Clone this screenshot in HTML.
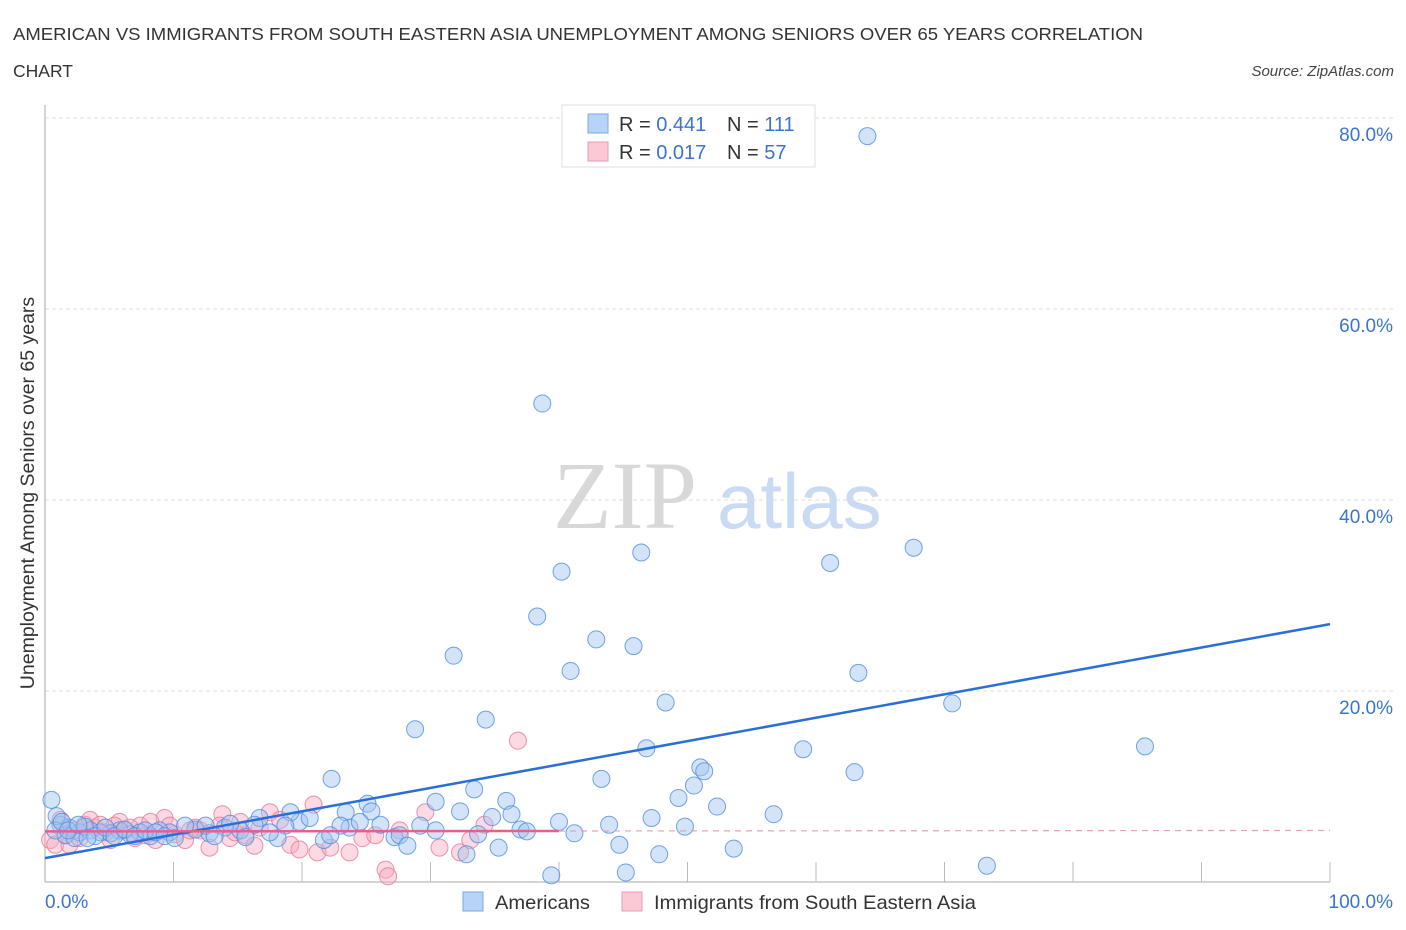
<!DOCTYPE html>
<html><head><meta charset="utf-8">
<style>
body{margin:0;background:#fff;font-family:"Liberation Sans",sans-serif;}
svg{display:block}
</style></head>
<body>
<svg id="chart" width="1406" height="930" viewBox="0 0 1406 930" xmlns="http://www.w3.org/2000/svg">
  <text x="13" y="40" font-size="17.5" fill="#333" textLength="1130" lengthAdjust="spacingAndGlyphs">AMERICAN VS IMMIGRANTS FROM SOUTH EASTERN ASIA UNEMPLOYMENT AMONG SENIORS OVER 65 YEARS CORRELATION</text>
  <text x="13" y="77" font-size="17.5" fill="#333">CHART</text>
  <text x="1394" y="76" font-size="15" fill="#444" font-style="italic" text-anchor="end">Source: ZipAtlas.com</text>
  <text x="34" y="493" font-size="19.5" fill="#333" text-anchor="middle" transform="rotate(-90 34 493)">Unemployment Among Seniors over 65 years</text>
  <g>
    <text x="553" y="528" font-family="Liberation Serif,serif" font-size="96" fill="#d8d8d8">ZIP</text>
    <text x="717" y="528" font-size="78" fill="#c9dbf2">atlas</text>
  </g>
  <g id="grid"></g>
  <g id="axes"></g>
  <g id="pts"></g>
  <g id="lines"></g>
  <g>
    <rect x="562" y="105" width="253" height="62" fill="#fff" stroke="#ddd"/>
    <rect x="588" y="114" width="20" height="19" fill="#b7d3f5" stroke="#7aa8e6"/>
    <rect x="588" y="142" width="20" height="19" fill="#fbc9d6" stroke="#eb9ab0"/>
    <text x="619" y="131" font-size="20" fill="#333">R = <tspan fill="#3b73d1">0.441</tspan><tspan x="727">N = </tspan><tspan fill="#3b73d1">111</tspan></text>
    <text x="619" y="159" font-size="20" fill="#333">R = <tspan fill="#3b73d1">0.017</tspan><tspan x="727">N = </tspan><tspan fill="#3b73d1">57</tspan></text>
  </g>
  <g>
    <rect x="463" y="892" width="20" height="19" fill="#b7d3f5" stroke="#7aa8e6"/>
    <text x="495" y="909" font-size="19.5" fill="#333" textLength="95" lengthAdjust="spacingAndGlyphs">Americans</text>
    <rect x="622" y="892" width="20" height="19" fill="#fbc9d6" stroke="#eb9ab0"/>
    <text x="654" y="909" font-size="19.5" fill="#333" textLength="322" lengthAdjust="spacingAndGlyphs">Immigrants from South Eastern Asia</text>
  </g>
</svg>
<script>
const yTicks=[20,40,60,80];
const yTickLabels=["20.0%","40.0%","60.0%","80.0%"];
const xEndLabels=["0.0%","100.0%"];
const blueX=[64.0,38.7,46.4,67.6,61.1,40.2,38.3,42.9,45.8,31.8,40.9,63.3,48.3,70.6,34.3,28.8,46.8,85.6,59.0,51.0,51.3,63.0,22.3,43.3,50.5,33.4,30.4,49.3,52.3,56.7,35.9,25.1,32.3,0.5,23.4,25.4,36.3,40.0,43.9,47.2,49.8,41.2,34.8,29.2,30.4,33.7,37.0,37.5,27.2,27.6,28.2,35.3,44.7,53.6,47.8,32.8,39.4,45.2,73.3,21.7,19.8,19.1,20.6,16.7,18.7,18.1,16.3,15.2,14.0,12.8,11.7,10.9,9.7,8.9,8.2,7.4,6.6,5.8,5.1,4.3,3.5,2.7,1.9,1.2,0.9,1.6,2.3,3.1,3.9,4.7,5.4,6.2,7.0,7.8,8.6,9.3,10.1,12.5,13.2,14.4,15.6,17.5,23.7,24.5,26.1,23.0,22.2,0.8,1.3,1.8,2.6,3.3];
const blueY=[78.1,50.1,34.5,35.0,33.4,32.5,27.8,25.4,24.7,23.7,22.1,21.9,18.8,18.7,17.0,16.0,14.0,14.2,13.9,12.0,11.6,11.5,10.8,10.8,10.1,9.7,8.4,8.8,7.9,7.1,8.5,8.2,7.4,8.6,7.3,7.4,7.1,6.3,6.0,6.7,5.8,5.1,6.8,5.9,5.4,5.0,5.5,5.3,4.7,4.9,3.8,3.6,3.9,3.5,2.9,2.9,0.7,1.0,1.7,4.4,6.3,7.3,6.7,6.7,5.9,4.6,6.0,5.4,5.7,5.1,5.5,5.9,5.2,5.4,4.8,5.2,5.0,5.4,5.1,5.2,5.4,5.2,5.7,6.0,6.9,4.9,4.6,5.8,4.8,5.7,4.8,5.5,4.8,5.4,5.2,4.8,4.6,5.9,4.8,6.1,4.7,5.2,5.7,6.3,6.0,5.9,4.9,5.4,6.3,5.4,6.0,4.6];
const pinkX=[36.8,29.6,20.9,13.8,9.3,5.8,1.2,0.4,0.8,1.6,2.3,3.1,3.9,4.7,5.4,6.2,7.0,7.8,8.6,10.1,10.9,11.7,12.8,14.4,15.6,16.3,17.5,19.1,19.8,21.2,22.2,23.7,24.7,25.7,26.5,26.7,27.6,30.7,32.3,33.1,34.2,3.5,4.3,7.4,12.1,15.2,16.7,18.3,5.1,1.9,2.7,6.6,8.2,9.7,11.3,13.6,14.8];
const pinkY=[14.8,7.3,8.1,7.1,6.7,6.3,6.5,4.4,3.9,4.9,5.4,6.0,5.7,5.2,5.9,5.4,4.6,4.9,4.4,5.0,4.4,5.7,3.6,4.6,4.9,3.8,7.3,3.9,3.4,3.1,3.6,3.1,4.6,4.9,1.3,0.6,5.4,3.6,3.1,4.4,6.0,6.5,6.0,5.9,5.4,6.3,5.7,6.5,4.4,3.9,4.6,5.7,6.3,5.9,5.4,5.9,5.2];
const blueTrend=[2.5,27.0];   // value at x=0, x=100
const pinkTrend=[5.3,5.4];
const pinkSolidEnd=40;

const NS="http://www.w3.org/2000/svg";
const X0=45,X1=1330,Y0=882,Y80=118;
const sx=v=>X0+(X1-X0)*v/100;
const sy=v=>Y0-(Y0-Y80)*v/80;
function mk(tag,attrs,parent){const e=document.createElementNS(NS,tag);for(const k in attrs)e.setAttribute(k,attrs[k]);parent.appendChild(e);return e;}
const grid=document.getElementById('grid'),axes=document.getElementById('axes'),pts=document.getElementById('pts'),lines=document.getElementById('lines');
yTicks.forEach((t,i)=>{
  const l=mk('line',{x1:X0,x2:1393,y1:sy(t),y2:sy(t),stroke:'#ddd','stroke-dasharray':'4,3'},grid);
  
  
  const tx=mk('text',{x:1393,y:sy(t)+23,'font-size':19,fill:'#3b73d1','text-anchor':'end'},axes);
  tx.textContent=yTickLabels[i];
  
  
});
const ya=mk('line',{x1:X0,x2:X0,y1:105,y2:Y0,stroke:'#aaa'},axes);


const xa=mk('line',{x1:X0,x2:X1,y1:Y0,y2:Y0,stroke:'#aaa'},axes);


for(let v=10;v<=100;v+=10){
  const t=mk('line',{x1:sx(v),x2:sx(v),y1:Y0,y2:Y0-20,stroke:'#bbb'},axes);
  
  
}
const xl0=mk('text',{x:45,y:908,'font-size':19,fill:'#3b73d1'},axes);xl0.textContent=xEndLabels[0];


const xl1=mk('text',{x:1393,y:908,'font-size':19,fill:'#3b73d1','text-anchor':'end'},axes);xl1.textContent=xEndLabels[1];


pinkX.forEach((x,i)=>{
  const c=mk('circle',{cx:sx(x),cy:sy(pinkY[i]),r:8.5,fill:'rgba(248,170,192,0.45)',stroke:'rgba(232,120,150,0.8)','stroke-width':1},pts);
  
  
});
blueX.forEach((x,i)=>{
  const c=mk('circle',{cx:sx(x),cy:sy(blueY[i]),r:8.5,fill:'rgba(160,196,240,0.45)',stroke:'rgba(80,140,220,0.8)','stroke-width':1},pts);
  
  
});
const bl=mk('line',{x1:sx(0),y1:sy(blueTrend[0]),x2:sx(100),y2:sy(blueTrend[1]),stroke:'#2a6fd6','stroke-width':2.5},lines);


const pv=x=>pinkTrend[0]+(pinkTrend[1]-pinkTrend[0])*x/100;
const pl=mk('line',{x1:sx(0),y1:sy(pv(0)),x2:sx(pinkSolidEnd),y2:sy(pv(pinkSolidEnd)),stroke:'#e8608a','stroke-width':2.5},lines);


const pd=mk('line',{x1:sx(pinkSolidEnd),y1:sy(pv(pinkSolidEnd)),x2:sx(100),y2:sy(pv(100)),stroke:'#e8a0b4','stroke-width':1.2,'stroke-dasharray':'6,5'},lines);


</script>
</body></html>
